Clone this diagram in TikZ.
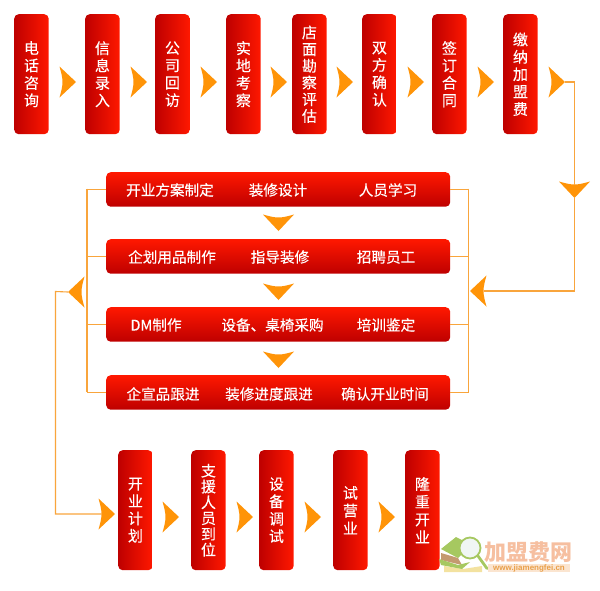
\documentclass[tikz,border=0pt]{standalone}
\usepackage{fontspec}
\newfontfamily\cjk[FakeBold=0.2]{Noto Sans CJK SC}
\newfontfamily\cjkb{Noto Sans CJK SC}
\setmainfont{Liberation Sans}
\definecolor{redD}{HTML}{BE0000}
\definecolor{redL}{HTML}{FF1800}
\definecolor{org}{HTML}{FF9408}
\definecolor{lin}{HTML}{F9A53C}
\definecolor{wmbook}{HTML}{F3E2A0}
\definecolor{wmgreen}{HTML}{A6C860}
\definecolor{wmbrown}{HTML}{C49A70}
\definecolor{wmglass}{HTML}{F0F6F4}
\definecolor{wmtext}{HTML}{F6BFA0}
\definecolor{wmstrip}{HTML}{FBE5D0}
\definecolor{wmurl}{HTML}{E9A04A}
\tikzset{
 x=1pt,y=-1pt,
 vbox/.style={rounded corners=4.5pt,minimum width=34.5pt,minimum height=120pt,inner sep=0,left color=redD,right color=redL,text=white,align=center,anchor=north west},
 hbox/.style={rounded corners=4.5pt,minimum width=344pt,minimum height=34.5pt,inner sep=0,top color=redL,bottom color=redD,anchor=north west},
 lab/.style={text=white,inner sep=0,font=\cjk\fontsize{14.6}{17}\selectfont},
 flow/.style={draw=lin,line width=1.1pt},
 chev/.pic={
  \fill[org] (0,0) -- (-16.5,-15.5) .. controls (-15,-10) and (-13.5,-5) .. (-13.5,0) .. controls (-13.5,5) and (-15,10) .. (-16.5,15.5) -- cycle;
  \coordinate (-tip) at (0,0);
  \coordinate (-back) at (-13.5,0);
 }
}
\begin{document}
\begin{tikzpicture}
\useasboundingbox (0,0) rectangle (600,590);
\fill[white] (0,0) rectangle (600,590);
% top row
\foreach \n/\x/\t/\s in {
 a1/14/电\\话\\咨\\询/17.4, a2/85/信\\息\\录\\入/17.4, a3/155/公\\司\\回\\访/17.4, a4/226/实\\地\\考\\察/17.4,
 a5/292/店\\面\\勘\\察\\评\\估/16.7, a6/362/双\\方\\确\\认/17.4, a7/432/签\\订\\合\\同/17.4, a8/503/缴\\纳\\加\\盟\\费/17.4}
 {\node[vbox,font=\cjk\fontsize{15}{\s}\selectfont] (\n) at (\x,14) {\t};}
% bottom row
\foreach \n/\x/\t/\s in {
 c1/118/开\\业\\计\\划/17.4, c2/191/支\\援\\人\\员\\到\\位/15.8, c3/259/设\\备\\调\\试/17.4, c4/333/试\\营\\业/17.7, c5/405/隆\\重\\开\\业/17.7}
 {\node[vbox,font=\cjk\fontsize{15}{\s}\selectfont] (\n) at (\x,450) {\t};}
% middle rows
\node[hbox] (b1) at (106,172) {};
\node[hbox] (b2) at (106,239) {};
\node[hbox] (b3) at (106,307) {};
\node[hbox] (b4) at (106,375) {};
\foreach \n/\x/\y/\t in {
 l11/170/190/开业方案制定, l12/278/190/装修设计, l13/388/190/人员学习,
 l21/172/257/企划用品制作, l22/280/257/指导装修, l23/386/257/招聘员工,
 l31/156/325/DM制作, l32/272.5/325/设备、桌椅采购, l33/386/325/培训鉴定,
 l41/163/394/企宣品跟进, l42/269/394/装修进度跟进, l43/385/394/确认开业时间}
 {\node[lab] (\n) at (\x,\y) {\t};}
% connectors
\coordinate (rt) at (574.5,82);
\coordinate (rb) at (574.5,291);
\coordinate (rj) at (468.5,291);
\coordinate (rtop) at (468.5,188.5);
\coordinate (rbot) at (468.5,392);
\coordinate (ltop) at (87,188.5);
\coordinate (lbot) at (87,392);
\coordinate (lm) at (55.5,291.5);
\coordinate (ld) at (55.5,514);
\draw[flow] (rtop) -- (rbot);
\draw[flow] (ltop) -- (lbot);
\draw[flow] (b1.east) -- (b1.east -| rj);
\draw[flow] (b2.east) -- (b2.east -| rj);
\draw[flow] (b3.east) -- (b3.east -| rj);
\draw[flow] (b4.east) -- (b4.east -| rj);
\draw[flow] (b1.west) -- (b1.west -| ltop);
\draw[flow] (b2.west) -- (b2.west -| ltop);
\draw[flow] (b3.west) -- (b3.west -| ltop);
\draw[flow] (b4.west) -- (b4.west -| ltop);
% chevrons
\foreach \n/\x in {h1/76,h2/147,h3/217,h4/287,h5/353,h6/424,h7/494,h8/565}
 \pic (\n) at (\x,82) {chev};
\foreach \n/\x in {k2/179,k3/253,k4/321,k5/395}
 \pic (\n) at (\x,517) {chev};
\foreach \n/\y in {d1/231,d2/300,d3/368}
 \pic[rotate=-90] (\n) at (278.5,\y) {chev};
\pic[rotate=-90] (dr) at (574.5,198) {chev};
\pic[rotate=180] (ar) at (470,291) {chev};
\pic[rotate=180] (al) at (68,292) {chev};
\pic (k1) at (115,514) {chev};
\draw[flow] (h8-tip) -- (rt) -- (dr-back);
\draw[flow] (dr-tip) -- (rb) -- (ar-back);
\draw[flow] (al-tip) -- (lm) -- (ld) -- (k1-back);
% watermark
\fill[wmbook] (444,572) -- (444,566) -- (463,569) -- (482,566) -- (482,572) -- cycle;
\fill[wmgreen] (441,549) -- (456,537) -- (472,545) -- (458,558) -- cycle;
\fill[wmbrown] (441,553) -- (458,558) -- (462,565) -- (441,560) -- cycle;
\fill[wmgreen] (439,559) -- (458,565) -- (470,562) -- (462,569) -- (441,565) -- cycle;
\draw[wmgreen,line width=1.8pt,fill=wmglass] (470,548) circle (10.5pt);
\draw[wmgreen,line width=2.8pt,line cap=round] (478,556) -- (487,568.5);
\node[inner sep=0,text=wmtext,font=\cjkb\bfseries\fontsize{22}{22}\selectfont] (wm) at (528.5,552) {加盟费网};
\node[inner sep=0,minimum width=82pt,minimum height=8pt,fill=wmstrip,text=wmurl,font=\bfseries\fontsize{8}{8}\selectfont] (wu) at (529,568) {www.jiamengfei.cn};
\end{tikzpicture}
\end{document}
